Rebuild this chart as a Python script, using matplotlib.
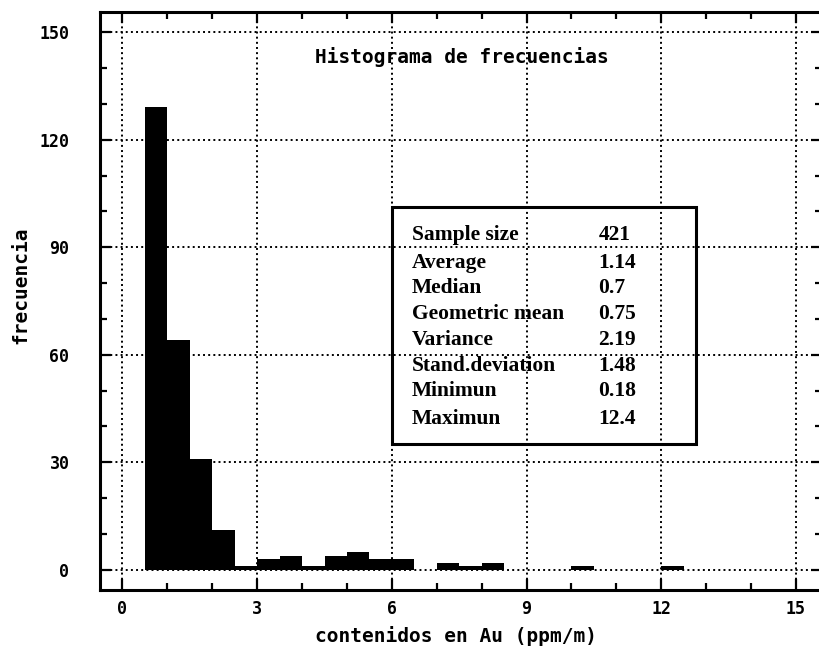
import matplotlib
matplotlib.use('Agg')
import matplotlib.pyplot as plt
from matplotlib.patches import Rectangle
from matplotlib.ticker import MultipleLocator

# histogram bins (left edge, width 0.5) and counts
bin_left = [0.5, 1.0, 1.5, 2.0, 2.5, 3.0, 3.5, 4.0, 4.5, 5.0, 5.5, 6.0,
            6.5, 7.0, 7.5, 8.0, 8.5, 9.0, 9.5, 10.0, 10.5, 11.0, 11.5, 12.0]
counts = [129, 64, 31, 11, 1, 3, 4, 1, 4, 5, 3, 3,
          0, 2, 1, 2, 0, 0, 0, 1, 0, 0, 0, 1]
bin_width = 0.5

stat_names = ['Sample size', 'Average', 'Median', 'Geometric mean',
              'Variance', 'Stand.deviation', 'Minimun', 'Maximun']
stat_values = ['421', '1.14', '0.7', '0.75', '2.19', '1.48', '0.18', '12.4']

mono = 'DejaVu Sans Mono'
serif = 'Liberation Serif'

fig = plt.figure(figsize=(8.2, 6.64), dpi=100)
ax = fig.add_axes([100 / 820, 74 / 664, 722 / 820, 578 / 664])

ax.set_xlim(-0.5, 15.58)
ax.set_ylim(-5.6, 155.6)

ax.bar(bin_left, counts, width=bin_width, align='edge', color='black',
       edgecolor='none', zorder=3)

ax.xaxis.set_major_locator(MultipleLocator(3))
ax.xaxis.set_minor_locator(MultipleLocator(1))
ax.yaxis.set_major_locator(MultipleLocator(30))
ax.yaxis.set_minor_locator(MultipleLocator(10))
ax.grid(True, which='major', color='black', linestyle=':', linewidth=1.4, zorder=1)
ax.set_axisbelow(True)

ax.tick_params(which='both', direction='in', top=True, right=True, width=1.6)
ax.tick_params(which='major', length=8)
ax.tick_params(which='minor', length=5)
ax.tick_params(axis='y', which='major', pad=22)
ax.tick_params(axis='x', which='major', pad=7)
for spine in ax.spines.values():
    spine.set_linewidth(2.2)

for lbl in ax.get_xticklabels() + ax.get_yticklabels():
    lbl.set_fontfamily(mono)
    lbl.set_fontweight('bold')
    lbl.set_fontsize(12)

ax.set_xlabel('contenidos en Au (ppm/m)', fontfamily=mono, fontweight='bold', fontsize=14)
ax.set_ylabel('frecuencia', fontfamily=mono, fontweight='bold', fontsize=14)
ax.xaxis.set_label_coords(0.493, -0.062)
ax.yaxis.set_label_coords(-0.097, 0.528)

ax.text(7.56, 143, 'Histograma de frecuencias', ha='center', va='center',
        fontfamily=mono, fontweight='bold', fontsize=14, zorder=4)

# statistics box
ax.add_patch(Rectangle((6.0, 35.1), 6.77, 66.1, fill=False, edgecolor='black',
                       linewidth=2.2, zorder=4))
row_y = [93.5, 85.5, 78.5, 71.5, 64.2, 57.0, 50.0, 42.2]
for name, val, yy in zip(stat_names, stat_values, row_y):
    ax.text(6.44, yy, name, ha='left', va='center', fontfamily=serif,
            fontweight='bold', fontsize=15.5, zorder=5)
    ax.text(10.6, yy, val, ha='left', va='center', fontfamily=serif,
            fontweight='bold', fontsize=15.5, zorder=5)

fig.savefig('out.png', dpi=100)
